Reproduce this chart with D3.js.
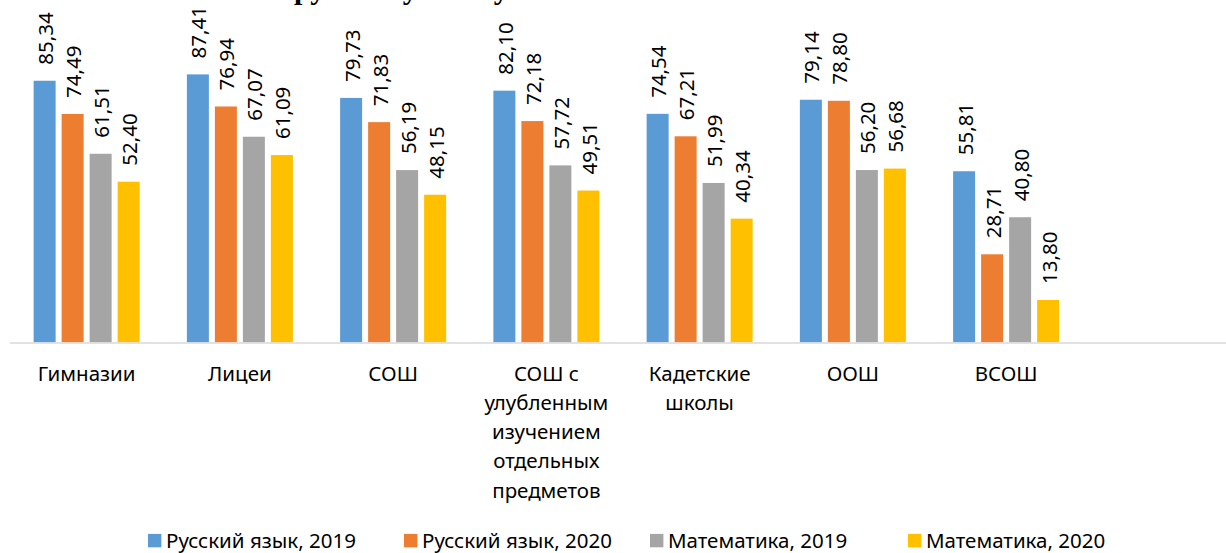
<!DOCTYPE html>
<html>
<head>
<meta charset="utf-8">
<script src="https://d3js.org/d3.v7.min.js"></script>
<style>
  body { margin: 0; background: #fff; }
  text { font-family: "Noto Sans", sans-serif; fill: #000; }
</style>
</head>
<body>
<svg width=1226 height=553></svg>

<script>

// categories (last slot is empty in the original chart)
var categories = ['Гимназии', 'Лицеи', 'СОШ', 'СОШ с улубленным изучением отдельных предметов', 'Кадетские школы', 'ООШ', 'ВСОШ', ''];
var catLines = [['Гимназии'], ['Лицеи'], ['СОШ'], ['СОШ с', 'улубленным', 'изучением', 'отдельных', 'предметов'], ['Кадетские', 'школы'], ['ООШ'], ['ВСОШ'], []];

var seriesNames = ['Русский язык, 2019', 'Русский язык, 2020', 'Математика, 2019', 'Математика, 2020'];
var seriesColors = ['#5B9BD5', '#ED7D31', '#A5A5A5', '#FFC000'];

var rus2019 = [85.34, 87.41, 79.73, 82.10, 74.54, 79.14, 55.81];
var rus2020 = [74.49, 76.94, 71.83, 72.18, 67.21, 78.80, 28.71];
var mat2019 = [61.51, 67.07, 56.19, 57.72, 51.99, 56.20, 40.80];
var mat2020 = [52.40, 61.09, 48.15, 49.51, 40.34, 56.68, 13.80];

var allSeries = [rus2019, rus2020, mat2019, mat2020];

var svg = d3.select('svg');

// title, mostly cut off at the top of the picture (as in the original)
svg.append('text')
  .attr('x', 294)
  .attr('y', -1)
  .style('font-family', '"Liberation Serif", serif')
  .style('font-weight', 'bold')
  .style('font-size', '30px')
  .text('русскому языку');

var x0 = d3.scaleBand()
  .domain(d3.range(categories.length))
  .range([10, 1236]);

var x1 = d3.scaleBand()
  .domain(d3.range(seriesNames.length))
  .range([-56, 56])
  .paddingInner(0.2143)
  .paddingOuter(0.107);

var y = d3.scaleLinear()
  .domain([0, 100])
  .range([342.3, 35.8]);

var fmt = function(v) { return d3.format('.2f')(v).replace('.', ','); };

var bars = [];
allSeries.forEach(function(vals, s) {
  vals.forEach(function(v, i) {
    bars.push({ s: s, i: i, v: v });
  });
});

function cx(d) {
  return x0(d.i) + x0.bandwidth() / 2 + x1(d.s);
}

svg.append('g')
  .selectAll('rect')
  .data(bars)
  .enter()
  .append('rect')
    .attr('x', d => cx(d))
    .attr('y', d => y(d.v))
    .attr('width', x1.bandwidth())
    .attr('height', d => y(0) - y(d.v))
    .attr('fill', d => seriesColors[d.s]);

// axis line
svg.append('line')
  .attr('x1', 10)
  .attr('x2', 1236)
  .attr('y1', y(0) + 0.8)
  .attr('y2', y(0) + 0.8)
  .attr('stroke', '#D9D9D9')
  .attr('stroke-width', 1.5);

// value labels, rotated
svg.append('g')
  .selectAll('text')
  .data(bars)
  .enter()
  .append('text')
    .attr('transform', d => 'translate(' + (cx(d) + x1.bandwidth() / 2 + 8.5) + ',' + (y(d.v) - 16) + ') rotate(-90)')
    .style('font-size', '20.5px')
    .text(d => fmt(d.v));

// category labels
var cat = svg.append('g')
  .selectAll('text')
  .data(catLines)
  .enter()
  .append('text')
    .attr('text-anchor', 'middle')
    .style('font-size', '20.5px')
    .attr('x', (d, i) => x0(i) + x0.bandwidth() / 2);

cat.selectAll('tspan')
  .data(d => d)
  .enter()
  .append('tspan')
    .attr('x', function() { return d3.select(this.parentNode).attr('x'); })
    .attr('y', (d, j) => 380.5 + j * 29.3)
    .text(d => d);

// legend
var legendX = [148, 404, 650, 908];
var leg = svg.append('g')
  .selectAll('g')
  .data(seriesNames)
  .enter()
  .append('g')
    .attr('transform', (d, i) => 'translate(' + legendX[i] + ',547.5)');

leg.append('rect')
  .attr('x', 0)
  .attr('y', -13.6)
  .attr('width', 13.4)
  .attr('height', 13.4)
  .attr('fill', (d, i) => seriesColors[i]);

leg.append('text')
  .attr('x', 18)
  .style('font-size', '20.5px')
  .text(d => d);

</script>
</body>
</html>
